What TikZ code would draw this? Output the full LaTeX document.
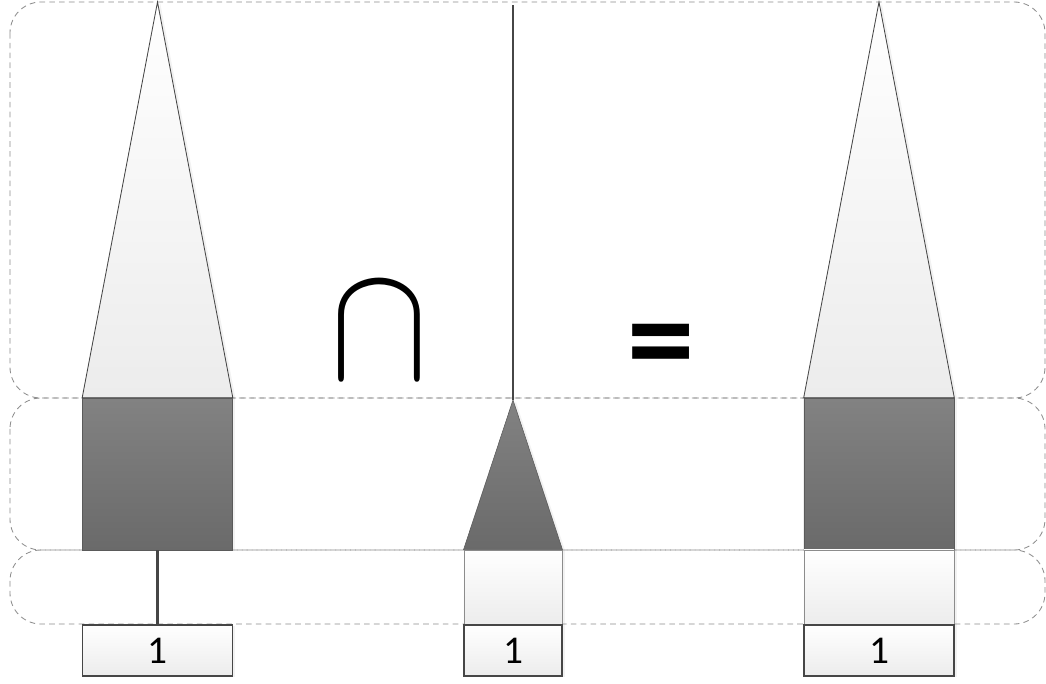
\documentclass[tikz,border=0pt]{standalone}
\usepackage{fontspec}
\setmainfont{Carlito}
\usetikzlibrary{positioning, shadows}
\definecolor{lane}{RGB}{140, 140, 140}
\definecolor{edge}{RGB}{70, 70, 70}
\definecolor{darktop}{RGB}{130, 130, 130}
\definecolor{darkbot}{RGB}{106, 106, 106}
\definecolor{lightbot}{RGB}{236, 236, 236}
\tikzset{
    lanebox/.style={draw=lane, dash pattern=on 4pt off 3pt, line width=0.6pt, rounded corners=22pt},
    soft/.style={drop shadow={opacity=0.1, shadow xshift=2pt, shadow yshift=-1pt}},
    darkblock/.style={rectangle, inner sep=0pt, draw=darkbot!85!black, line width=0.4pt, top color=darktop, bottom color=darkbot, soft},
    lightblock/.style={rectangle, inner sep=0pt, draw=lane, line width=0.6pt, top color=white, bottom color=lightbot, soft},
    lighttri/.style={draw=edge, line width=0.6pt, top color=white, bottom color=lightbot, soft},
    darktri/.style={draw=darkbot!85!black, line width=0.4pt, top color=darktop, bottom color=darkbot, soft},
    valbox/.style={rectangle, inner sep=0pt, draw=edge, line width=0.9pt, top color=white, bottom color=lightbot, minimum height=1.275cm, font=\fontsize{28}{30}\selectfont, soft},
    link/.style={draw=edge, line width=1.8pt},
    opsign/.style={inner sep=0pt, anchor=base}
}
\begin{document}
\begin{tikzpicture}[x=0.025cm, y=-0.025cm]
    \useasboundingbox (0,0) rectangle (1046,684);
    % lanes
    \draw[lanebox] (10,2) rectangle (1045,398);
    \draw[lanebox] (10,398) rectangle (1045,550);
    \draw[lanebox] (10,550) rectangle (1045,624);
    % left tree
    \node[darkblock, minimum width=3.75cm, minimum height=3.8cm] (lsub) at (157.5,474) {};
    \coordinate (ltip) at (157.5,2);
    \path[lighttri] (lsub.north west) -- (ltip) -- (lsub.north east) -- cycle;
    \node[valbox, minimum width=3.75cm] (lval) at (157.5,650.5) {1};
    \draw[link] (lsub) -- (lval);
    % middle tree
    \node[lightblock, minimum width=2.45cm, minimum height=1.875cm] (mlow) at (513,587.5) {};
    \coordinate (mtip) at (513,400);
    \coordinate (mtop) at (513,5);
    \path[darktri] (mlow.north west) -- (mtip) -- (mlow.north east) -- cycle;
    \draw[link] (mtop) -- (mtip);
    \node[valbox, minimum width=2.45cm] (mval) at (513,650.5) {1};
    % right tree
    \node[darkblock, minimum width=3.75cm, minimum height=3.8cm] (rsub) at (879,474) {};
    \node[lightblock, minimum width=3.75cm, minimum height=1.875cm] (rlow) at (879,587.5) {};
    \coordinate (rtip) at (879,2);
    \path[lighttri] (rsub.north west) -- (rtip) -- (rsub.north east) -- cycle;
    \node[valbox, minimum width=3.75cm] (rval) at (879,650.5) {1};
    % operators
    \node[opsign, xscale=4.2, yscale=4.8, font=\fontsize{24.88}{24.88}\selectfont] (inter) at (379,378) {$\cap$};
    \node[opsign, font=\bfseries\fontsize{96}{96}\selectfont] (equal) at (661,384) {=};
\end{tikzpicture}
\end{document}
